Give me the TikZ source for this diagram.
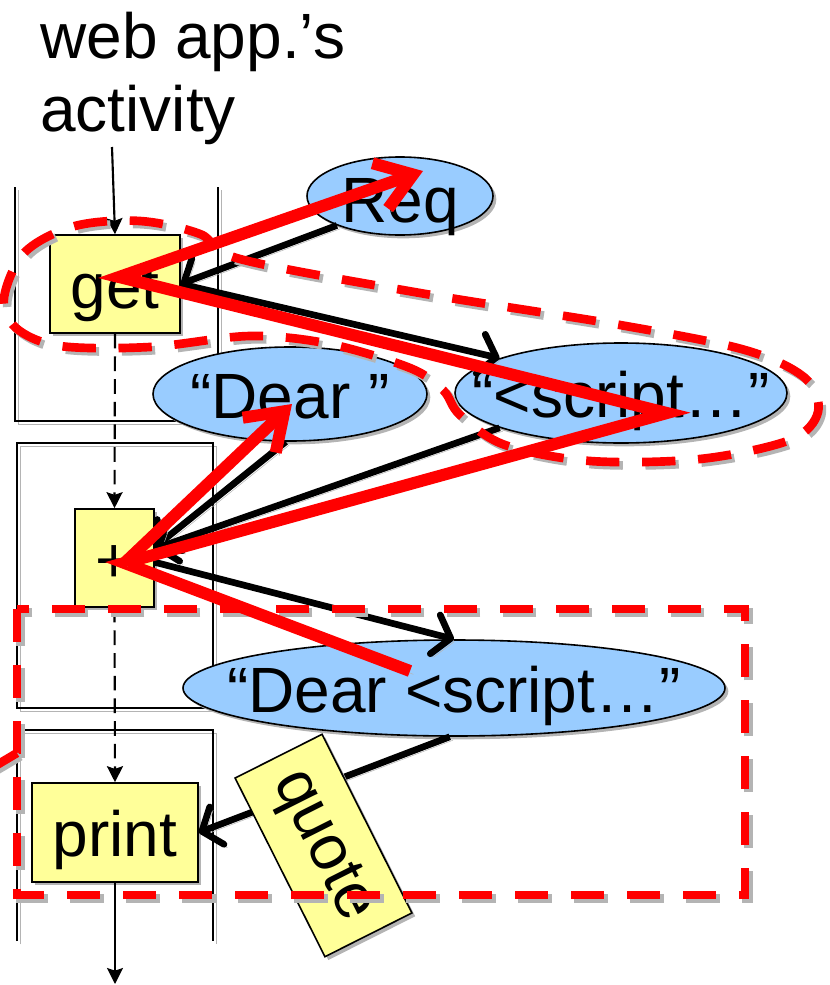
\documentclass[tikz,border=0pt]{standalone}
\usepackage{fontspec}
\setmainfont{Liberation Sans}
\usetikzlibrary{arrows.meta,shadows,calc,shapes.geometric}
\definecolor{boxyellow}{HTML}{FFFF99}
\definecolor{ellblue}{HTML}{99CCFF}
\definecolor{shadowgray}{HTML}{B4B4B4}
\newcommand\ctext[2][18pt]{\makebox[0pt]{\raisebox{-#1}[0pt][0pt]{#2}}}
\begin{document}
\begin{tikzpicture}[x=0.75pt,y=-0.75pt,
  font=\fontsize{48}{55}\selectfont,
  nshadow/.style={drop shadow={shadow xshift=2.5pt,shadow yshift=-2.5pt,fill=shadowgray,opacity=1}},
  lshadow/.style={preaction={draw=shadowgray,transform canvas={shift={(2.5pt,-2.5pt)}}}},
  lanebox/.style={draw=black,line width=1.2pt,lshadow},
  actbox/.style={rectangle,draw=black,fill=boxyellow,line width=1.2pt,nshadow,inner sep=0pt},
  dataell/.style={ellipse,draw=black,fill=ellblue,line width=1.2pt,nshadow,inner sep=0pt},
  flowarrow/.style={draw=black,line width=1.6pt,-{Stealth[length=12pt,width=12pt,inset=2pt]}},
  dflowarrow/.style={flowarrow,dash pattern=on 11pt off 6pt},
  dataarrow/.style={draw=black,line width=5pt,lshadow,-{Straight Barb[round,length=12pt,width=30pt]}},
  taint/.style={draw=red,line width=9pt,lshadow,line join=miter},
  taintarrow/.style={taint,-{Straight Barb[length=26pt,width=36pt]}},
  region/.style={preaction={draw=shadowgray,line width=6.5pt,dash pattern=on 25pt off 17pt,transform canvas={shift={(2.5pt,-2.5pt)}}},draw=red,line width=6.5pt,dash pattern=on 25pt off 17pt}]

\useasboundingbox (0,0) rectangle (829,985);

% swimlanes
\draw[lanebox] (15,187) -- (15,421) -- (218,421) -- (218,187);
\draw[lanebox] (17,443) rectangle (213,708);
\draw[lanebox] (17,941) -- (17,730) -- (213,730) -- (213,941);

% title
\node[anchor=base west,inner sep=0pt] (t1) at (40,58) {web app.’s};
\node[anchor=base west,inner sep=0pt] (t2) at (40,131) {activity};

% activity boxes
\node[actbox,minimum width=97.5pt,minimum height=73.5pt] (get) at (115,284) {\ctext{get}};
\node[actbox,minimum width=59.25pt,minimum height=73.5pt] (plus) at (114.5,558) {\ctext{+}};
\node[actbox,minimum width=124.5pt,minimum height=74.25pt] (print) at (115,832.5) {\ctext{print}};

% data ellipses
\node[dataell,minimum width=139.5pt,minimum height=58.5pt] (req) at (400,196) {\ctext[20pt]{Req}};
\node[dataell,minimum width=205.5pt,minimum height=70.5pt] (dear) at (290,394) {\ctext{“Dear ”}};
\node[dataell,minimum width=249pt,minimum height=75pt] (script) at (621,393) {\ctext{“<script…”}};
\node[dataell,minimum width=406.5pt,minimum height=72pt] (dearscript) at (454,688) {\ctext{“Dear <script…”}};

% control flow
\coordinate (tin) at (112,147);
\coordinate (fout) at (115,984);
\draw[flowarrow] (tin) -- (get.north);
\draw[dflowarrow] (get.south) -- (plus.north);
\draw[dflowarrow] (plus.south) -- (print.north);
\draw[flowarrow] (print.south) -- (fout);

% data flow
\draw[dataarrow] (req.205) -- (get.east);
\draw[dataarrow] (get.east) -- (script.164);
\draw[dataarrow] (dear.265) -- (plus.15);
\draw[dataarrow] (script.196) -- (plus.13);
\draw[dataarrow] (plus.-6) -- (dearscript.north);
\draw[dataarrow] (dearscript.265) -- (print.east);

% quote label
\node[actbox,rotate=-63.3,minimum width=150pt,minimum height=73pt] (quote) at (323.5,845.5) {\ctext[12pt]{quote}};

% dashed regions
\draw[region] plot[smooth cycle,tension=0.55] coordinates {(4,298) (25,252) (75,226) (140,221) (200,234) (240,259) (420,293) (620,325) (745,350) (805,378) (818,412) (790,440) (700,459) (590,461) (505,445) (460,415) (443,390) (410,368) (330,344) (250,336) (150,347) (60,346) (16,328)};
\draw[region] (17,609) rectangle (745,895);
\coordinate (offl) at (-20,775);
\draw[region] (17,753) -- (offl);

% taint path
\coordinate (rget) at ($(get.center)+(4,-7)$);
\coordinate (rplus) at ($(plus.center)+(10,5)$);
\coordinate (rscript) at ($(script.center)+(46,20)$);
\coordinate (rreq) at ($(req.center)+(23,-25)$);
\coordinate (rdear) at ($(dear.center)+(2,10)$);
\coordinate (rds) at ($(dearscript.center)+(-44,-17)$);
\draw[taintarrow] (rds) -- (rplus) -- (rscript) -- (rget) -- (rreq);
\draw[taintarrow] (rplus) -- (rdear);
\end{tikzpicture}
\end{document}
